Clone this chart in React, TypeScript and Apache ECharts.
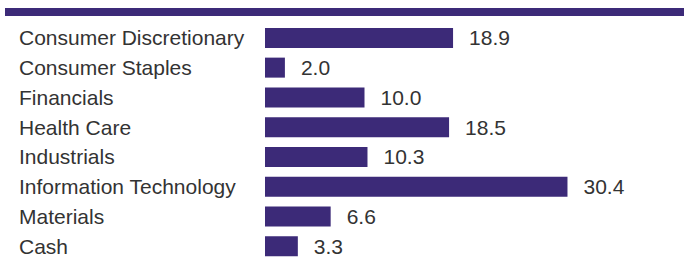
import React, { useEffect, useRef } from "react";
import * as echarts from "echarts";

const categories = [
  "Consumer Discretionary",
  "Consumer Staples",
  "Financials",
  "Health Care",
  "Industrials",
  "Information Technology",
  "Materials",
  "Cash",
];
const values = [18.9, 2.0, 10.0, 18.5, 10.3, 30.4, 6.6, 3.3];

const BAR = "#3c2a78";
const TEXT = "#333333";
const FONT = "'Liberation Sans', Arial, sans-serif";

export default function App() {
  const ref = useRef<HTMLDivElement>(null);
  useEffect(() => {
    if (!ref.current) return;
    const chart = echarts.init(ref.current, undefined, { renderer: "svg" });
    chart.setOption({
      animation: false,
      graphic: [
        {
          type: "rect",
          shape: { x: 5, y: 8, width: 679, height: 8 },
          style: { fill: BAR },
          silent: true,
        },
      ],
      grid: { left: 265, top: 23, width: 398, height: 240 },
      xAxis: {
        type: "value",
        min: 0,
        max: 40,
        show: false,
      },
      yAxis: {
        type: "category",
        inverse: true,
        data: categories,
        axisLine: { show: false },
        axisTick: { show: false },
        axisLabel: {
          align: "left",
          margin: 246,
          color: TEXT,
          fontSize: 21,
          fontFamily: FONT,
          padding: [9, 0, 0, 0],
        },
      },
      series: [
        {
          type: "bar",
          data: values,
          barWidth: 20,
          itemStyle: { color: BAR },
          label: {
            show: true,
            position: "right",
            distance: 16,
            color: TEXT,
            fontSize: 21,
            fontFamily: FONT,
            padding: [4, 0, 0, 0],
            formatter: (p: any) => Number(p.value).toFixed(1),
          },
        },
      ],
    });
    return () => chart.dispose();
  }, []);
  return (
    <div
      ref={ref}
      style={{ position: "absolute", left: 0, top: 0, width: 684, height: 261 }}
    />
  );
}
